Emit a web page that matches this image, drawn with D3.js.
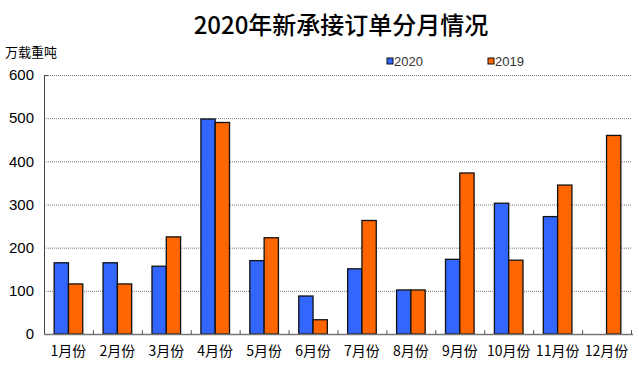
<!DOCTYPE html>
<html>
<head>
<meta charset="utf-8">
<script src="https://cdn.jsdelivr.net/npm/d3@7"></script>
<style>
  body { margin: 0; background: #fff; }
  svg { display: block; }
</style>
</head>
<body>
<div id="chart"></div>
<script>
'use strict';

// Data
let months = ['1月份','2月份','3月份','4月份','5月份','6月份','7月份','8月份','9月份','10月份','11月份','12月份'];
let orders2020 = [165, 165, 157, 498, 170, 88, 151, 102, 173, 303, 272, null];
let orders2019 = [116, 116, 225, 490, 223, 33, 263, 102, 373, 171, 345, 460];
let yTicks = [0, 100, 200, 300, 400, 500, 600];
let seriesNames = ['2020', '2019'];

// Formatting
let width = 639;
let height = 366;
let plot = { left: 44, right: 631, top: 75, bottom: 334 };
let colors = { '2020': '#3366ff', '2019': '#ff6600' };
let barWidth = 14.3;
let cnFont = '"Noto Sans CJK SC", "Noto Sans", sans-serif';
let numFont = '"Liberation Sans", Arial, sans-serif';

let svg = d3.select('#chart').append('svg')
  .attr('width', width)
  .attr('height', height);

let xScale = d3.scaleBand()
  .domain(months)
  .range([plot.left, plot.right]);

let yScale = d3.scaleLinear()
  .domain([0, 600])
  .range([plot.bottom, plot.top]);

// Gridlines
svg.append('g')
  .selectAll('line')
  .data(yTicks.filter(d => d > 0))
  .enter()
  .append('line')
  .attr('x1', plot.left)
  .attr('x2', plot.right)
  .attr('y1', d => yScale(d) + 0.5)
  .attr('y2', d => yScale(d) + 0.5)
  .style('stroke', '#777')
  .style('stroke-width', 1)
  .style('stroke-dasharray', '1,1');

// Bars
let rows = months.map((m, i) => ({ month: m, s2020: orders2020[i], s2019: orders2019[i] }));

let barGroup = svg.append('g');
rows.forEach(r => {
  let center = xScale(r.month) + xScale.bandwidth() / 2;
  [['2020', r.s2020, center - barWidth], ['2019', r.s2019, center]].forEach(([name, v, x]) => {
    if (v == null) return;
    barGroup.append('rect')
      .attr('x', x)
      .attr('y', yScale(v))
      .attr('width', barWidth)
      .attr('height', yScale(0) - yScale(v))
      .style('fill', colors[name])
      .style('stroke', '#111')
      .style('stroke-width', 1.3);
  });
});

// Y axis
let yAxis = d3.axisLeft(yScale).tickValues(yTicks).tickSize(0).tickPadding(10);
let yG = svg.append('g')
  .attr('transform', `translate(${plot.left},0)`)
  .call(yAxis);
yG.select('.domain').remove();
yG.append('line')
  .attr('x1', 0.5).attr('x2', 0.5)
  .attr('y1', plot.top).attr('y2', plot.bottom)
  .style('stroke', '#444');
yG.append('line')
  .attr('x1', 0.5).attr('x2', 4)
  .attr('y1', plot.top + 0.5).attr('y2', plot.top + 0.5)
  .style('stroke', '#444');
yG.selectAll('text')
  .style('font-family', numFont)
  .style('font-size', '15px')
  .style('fill', '#000');

// X axis
let xAxis = d3.axisBottom(xScale).tickSize(0).tickPadding(12);
let xG = svg.append('g')
  .attr('transform', `translate(0,${plot.bottom})`)
  .call(xAxis);
xG.select('.domain').remove();
xG.append('line')
  .attr('x1', plot.left).attr('x2', plot.right + 2)
  .attr('y1', 0.5).attr('y2', 0.5)
  .style('stroke', '#777')
  .style('stroke-width', 1.5);
xG.selectAll('.boundary')
  .data(months.slice(1).concat(['end']))
  .enter()
  .append('line')
  .attr('class', 'boundary')
  .attr('x1', (d, i) => xScale(months[i]) + xScale.bandwidth() + 0.5)
  .attr('x2', (d, i) => xScale(months[i]) + xScale.bandwidth() + 0.5)
  .attr('y1', -4).attr('y2', 0)
  .style('stroke', '#555');
xG.selectAll('.tick text')
  .style('font-family', cnFont)
  .style('font-size', '14px')
  .style('fill', '#000');

// Title
svg.append('text')
  .attr('x', 341)
  .attr('y', 34)
  .attr('text-anchor', 'middle')
  .style('font-family', cnFont)
  .style('font-size', '24px')
  .style('font-weight', '500')
  .text('2020年新承接订单分月情况');

// Unit label
svg.append('text')
  .attr('x', 5)
  .attr('y', 57)
  .style('font-family', cnFont)
  .style('font-size', '13px')
  .text('万载重吨');

// Legend
let legendX = [387, 488];
seriesNames.forEach((name, i) => {
  svg.append('rect')
    .attr('x', legendX[i])
    .attr('y', 58)
    .attr('width', 6)
    .attr('height', 6)
    .style('fill', colors[name])
    .style('stroke', '#111')
    .style('stroke-width', 1);
  svg.append('text')
    .attr('x', legendX[i] + 7)
    .attr('y', 66)
    .style('font-family', numFont)
    .style('font-size', '13px')
    .style('fill', '#333')
    .text(name);
});
</script>
</body>
</html>
